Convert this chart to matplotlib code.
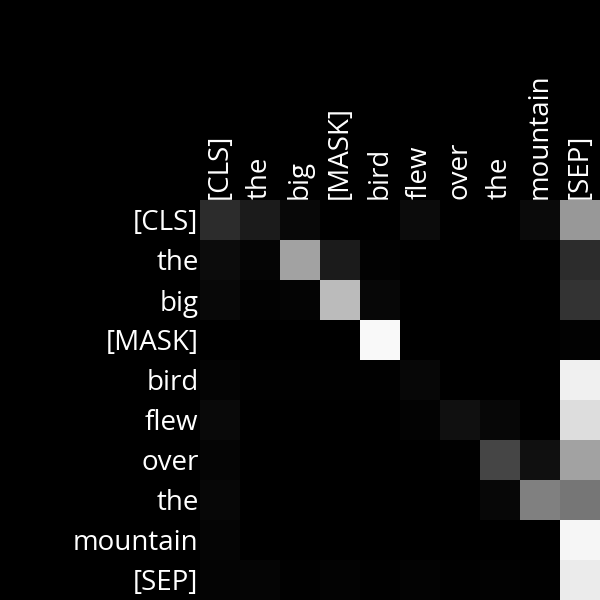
import numpy as np
import matplotlib
matplotlib.use("Agg")
import matplotlib.pyplot as plt

tokens = ["[CLS]", "the", "big", "[MASK]", "bird", "flew", "over", "the", "mountain", "[SEP]"]

# attention weights (grey level / 255)
attn_rows = [
    [45, 27, 8, 0, 0, 11, 0, 0, 10, 152],
    [12, 5, 162, 27, 2, 0, 0, 0, 0, 44],
    [8, 2, 4, 187, 7, 0, 0, 0, 0, 51],
    [0, 0, 0, 0, 249, 0, 0, 0, 0, 2],
    [4, 1, 1, 1, 1, 7, 0, 0, 0, 240],
    [9, 0, 0, 0, 0, 3, 16, 7, 0, 221],
    [5, 0, 0, 0, 0, 0, 1, 69, 16, 162],
    [7, 0, 0, 0, 0, 0, 0, 7, 128, 118],
    [5, 0, 0, 0, 0, 0, 0, 0, 0, 246],
    [4, 5, 1, 3, 1, 3, 1, 2, 1, 235],
]
attn = np.array(attn_rows) / 255.0

plt.rcParams['font.family'] = ['Open Sans', 'DejaVu Sans']

fig = plt.figure(figsize=(6, 6), dpi=100, facecolor="black")
ax = fig.add_axes([200/600, 0, 400/600, 400/600])
ax.imshow(attn, cmap="gray", vmin=0, vmax=1, aspect="auto", interpolation="nearest")
ax.set_facecolor("black")

ax.set_xticks(range(len(tokens)))
ax.set_yticks(range(len(tokens)))
ax.set_xticklabels(tokens, rotation=90, color="white", fontsize=20)
ax.set_yticklabels(tokens, color="white", fontsize=20)
ax.xaxis.tick_top()
ax.tick_params(length=0, pad=1)
for s in ax.spines.values():
    s.set_visible(False)

fig.savefig("out.png", dpi=100, facecolor="black")
